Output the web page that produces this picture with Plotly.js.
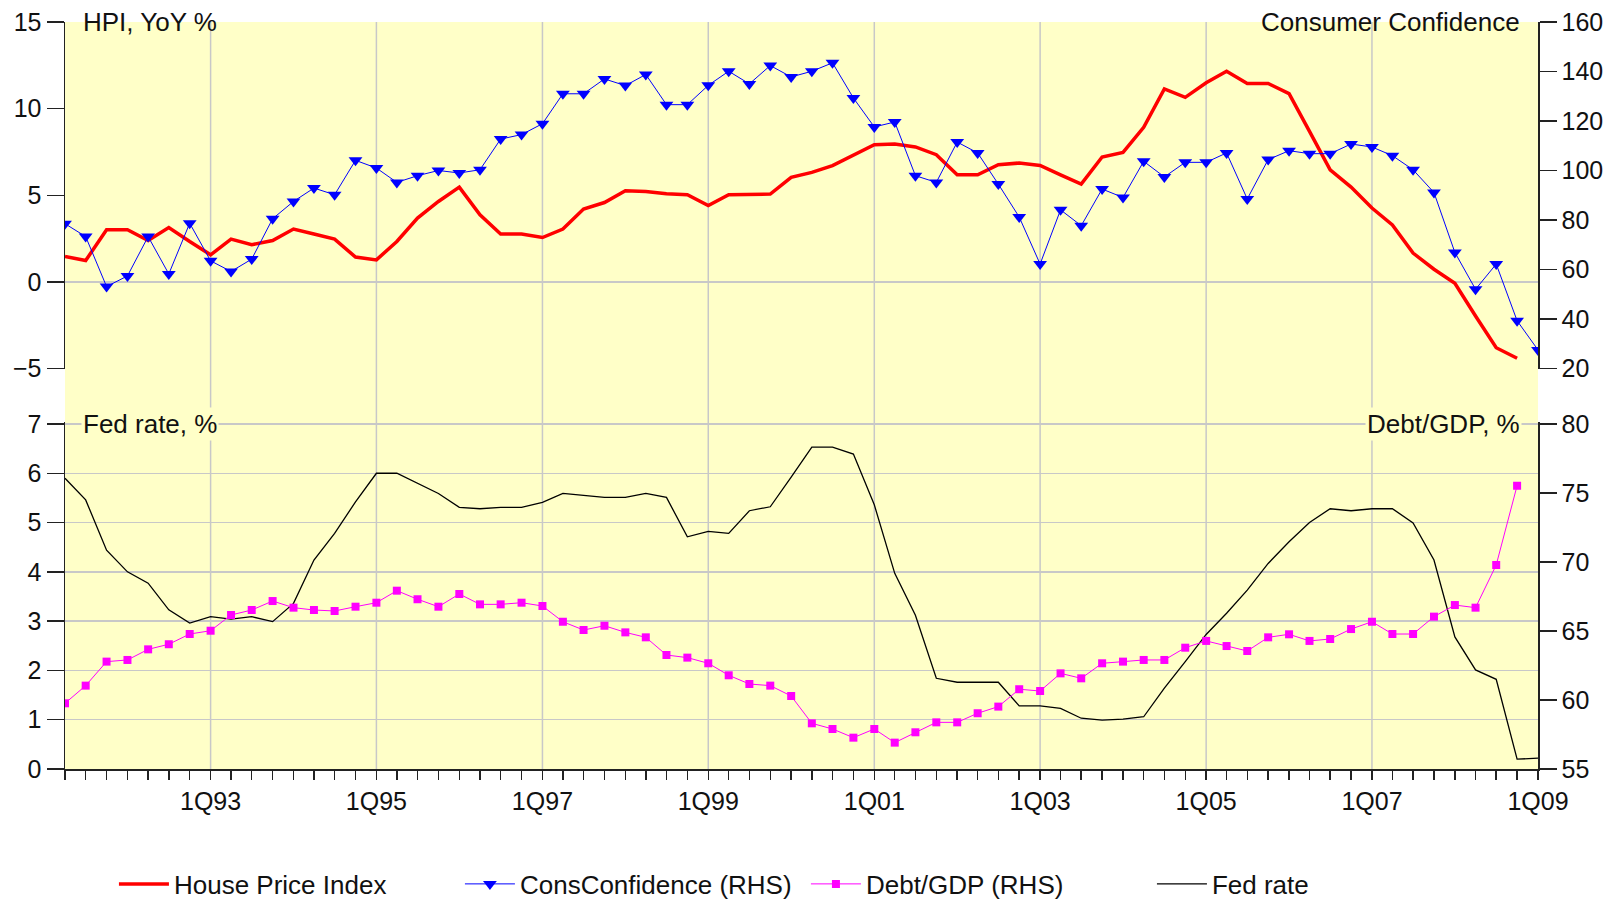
<!DOCTYPE html>
<html><head><meta charset="utf-8">
<script src="https://cdn.plot.ly/plotly-3.0.1.min.js"></script>
<style>html,body{margin:0;padding:0;background:#fff}#chart{width:1623px;height:900px}</style>
</head><body><div id="chart"></div>
<script>
// First quarter of the series: 2Q91
const startYear = 1991, startQuarter = 2;

// House Price Index, YoY % (2Q91 .. 4Q08)
const hpi = [1.46,1.23,3.01,3.01,2.39,3.14,2.33,1.56,2.47,2.14,2.39,3.05,2.76,2.47,1.43,1.27,2.33,3.68,4.64,5.47,3.87,2.76,2.76,2.56,
  3.05,4.20,4.58,5.26,5.22,5.09,5.03,4.41,5.03,5.07,5.07,6.03,6.32,6.71,7.30,7.92,7.96,7.79,7.34,6.18,6.18,6.76,6.86,6.72,6.18,5.64,
  7.21,7.47,8.92,11.14,10.65,11.49,12.16,11.45,11.45,10.87,8.69,6.47,5.47,4.26,3.29,1.66,0.73,-0.08,-1.97,-3.80,-4.41];
// Consumer Confidence (RHS) (2Q91 .. 1Q09)
const consConf = [78.5,73.3,53.1,57.4,73.3,58.2,78.7,63.5,59.2,64.2,80.5,87.5,92.9,90.2,104.1,101.0,95.2,97.9,100.0,99.0,100.3,112.7,114.5,118.9,
  131.0,131.0,137.0,134.3,138.8,126.6,126.6,134.4,140.1,135.0,142.4,137.8,140.1,143.5,129.3,117.6,119.6,97.9,95.2,111.5,107.1,94.5,81.2,62.2,84.1,77.7,
  92.5,89.1,103.7,97.4,103.3,103.3,107.1,88.5,104.4,108.0,106.8,106.8,110.7,109.5,106.0,100.3,91.1,66.9,52.0,62.2,39.3,27.5];
// Debt/GDP, % (RHS) (2Q91 .. 4Q08)
const debtGdp = [59.76,61.04,62.78,62.90,63.67,64.04,64.78,65.02,66.16,66.52,67.17,66.69,66.52,66.45,66.76,67.05,67.92,67.30,66.76,67.68,66.93,66.93,67.05,66.81,
  65.67,65.07,65.38,64.90,64.54,63.26,63.07,62.66,61.79,61.16,61.04,60.29,58.31,57.90,57.27,57.90,56.91,57.66,58.38,58.38,59.04,59.52,60.78,60.65,61.93,61.57,
  62.66,62.78,62.90,62.90,63.79,64.28,63.91,63.55,64.54,64.76,64.28,64.42,65.14,65.67,64.78,64.78,66.04,66.88,66.69,69.78,75.53];
// Fed rate, % (2Q91 .. 1Q09)
const fedRate = [5.90,5.46,4.44,4.00,3.77,3.23,2.96,3.09,3.04,3.09,2.99,3.36,4.24,4.78,5.42,6.00,6.00,5.80,5.59,5.31,5.28,5.31,5.31,5.41,
  5.59,5.55,5.51,5.51,5.59,5.51,4.71,4.82,4.78,5.24,5.32,5.92,6.53,6.53,6.39,5.36,3.97,3.12,1.84,1.76,1.76,1.76,1.28,1.28,1.23,1.03,
  0.99,1.01,1.06,1.64,2.18,2.73,3.16,3.63,4.17,4.61,5.00,5.28,5.24,5.28,5.28,4.99,4.24,2.68,2.01,1.82,0.20,0.22];

const tickDates = ['1993-01-01','1995-01-01','1997-01-01','1999-01-01','2001-01-01','2003-01-01','2005-01-01','2007-01-01','2009-01-01'];
const tickLabels = ['1Q93','1Q95','1Q97','1Q99','1Q01','1Q03','1Q05','1Q07','1Q09'];

const nQ = Math.max(hpi.length, consConf.length, debtGdp.length, fedRate.length);
const quarters = [];
for (let i = 0; i < nQ; i++) {
  const q0 = startQuarter - 1 + i;
  const y = startYear + Math.floor(q0 / 4);
  const m = (q0 % 4) * 3 + 1;
  quarters.push(y + '-' + String(m).padStart(2, '0') + '-01');
}

const FONT = 'Liberation Sans, Arial, sans-serif';
const TXT = '#111111';
const YELLOW = '#ffffc8';
const GRID = '#c8c8c8';
const AX = '#222222';

const traces = [
  {x: quarters.slice(0, hpi.length), y: hpi, name: 'House Price Index', type: 'scatter', mode: 'lines',
   line: {color: '#ff0000', width: 3.5}, xaxis: 'x', yaxis: 'y'},
  {x: quarters.slice(0, consConf.length), y: consConf, name: 'ConsConfidence (RHS)', type: 'scatter', mode: 'lines+markers',
   line: {color: '#0000ff', width: 1}, marker: {symbol: 'triangle-down', size: 12, color: '#0000ff'}, xaxis: 'x', yaxis: 'y3'},
  {x: quarters.slice(0, debtGdp.length), y: debtGdp, name: 'Debt/GDP (RHS)', type: 'scatter', mode: 'lines+markers',
   line: {color: '#ff00ff', width: 1}, marker: {symbol: 'square', size: 8, color: '#ff00ff'}, xaxis: 'x', yaxis: 'y4'},
  {x: quarters.slice(0, fedRate.length), y: fedRate, name: 'Fed rate', type: 'scatter', mode: 'lines',
   line: {color: '#000000', width: 1.3}, xaxis: 'x', yaxis: 'y2'}
];

const tickfont = {family: FONT, size: 25, color: TXT};
const yCommon = {showline: true, linecolor: AX, linewidth: 1.5, ticks: 'outside', ticklen: 17, tickwidth: 1.5,
  tickcolor: AX, tickfont: tickfont, anchor: 'x', fixedrange: true};

const shapes = [{type: 'rect', xref: 'paper', yref: 'paper', x0: 0, x1: 1, y0: 0, y1: 1,
  fillcolor: YELLOW, line: {width: 0}, layer: 'below'}].concat(
  tickDates.slice(0, -1).map(d => ({type: 'line', xref: 'x', yref: 'paper', x0: d, x1: d, y0: 0, y1: 1,
    line: {color: GRID, width: 1.5}, layer: 'below'})));

const annFont = {family: FONT, size: 26, color: TXT};
const layout = {
  width: 1623, height: 900,
  margin: {l: 65, r: 85, t: 22, b: 131, autoexpand: false},
  paper_bgcolor: '#ffffff', plot_bgcolor: 'rgba(0,0,0,0)',
  font: {family: FONT, size: 26, color: TXT},
  showlegend: true,
  legend: {orientation: 'h', xref: 'container', yref: 'container', x: 0.0702, y: 0.0178,
    xanchor: 'left', yanchor: 'middle', font: {family: FONT, size: 26, color: TXT},
    itemwidth: 50, entrywidth: 281, bgcolor: 'rgba(0,0,0,0)'},
  xaxis: {type: 'date', anchor: 'y2', range: [quarters[0], tickDates[tickDates.length - 1]],
    tickmode: 'array', tickvals: tickDates, ticktext: tickLabels, ticks: 'outside', ticklen: 9, tickwidth: 1.5,
    tickcolor: AX, showline: true, linecolor: AX, linewidth: 1.5, showgrid: false, zeroline: false,
    tickfont: tickfont, fixedrange: true,
    minor: {tickmode: 'linear', tick0: quarters[0], dtick: 'M3', ticks: 'outside', ticklen: 9, tickwidth: 1.5,
      tickcolor: AX, showgrid: false}},
  yaxis: Object.assign({}, yCommon, {domain: [0.53614, 1], range: [-5, 15], tickmode: 'array',
    tickvals: [-5, 0, 5, 10, 15], showgrid: false, zeroline: true, zerolinecolor: GRID, zerolinewidth: 1.5}),
  yaxis3: Object.assign({}, yCommon, {overlaying: 'y', side: 'right', range: [20, 160], tickmode: 'linear',
    tick0: 20, dtick: 20, showgrid: false, zeroline: false}),
  yaxis2: Object.assign({}, yCommon, {domain: [0, 0.46386], range: [0, 7.03], tickmode: 'linear', tick0: 0, dtick: 1,
    showgrid: true, gridcolor: GRID, gridwidth: 1.5, zeroline: false}),
  yaxis4: Object.assign({}, yCommon, {overlaying: 'y2', side: 'right', range: [55, 80.107], tickmode: 'linear',
    tick0: 55, dtick: 5, showgrid: false, zeroline: false}),
  shapes: shapes,
  annotations: [
    {text: 'HPI, YoY %', xref: 'paper', yref: 'paper', x: 0, y: 1, xanchor: 'left', yanchor: 'middle',
     xshift: 16, showarrow: false, font: annFont},
    {text: 'Consumer Confidence', xref: 'paper', yref: 'paper', x: 1, y: 1, xanchor: 'right', yanchor: 'middle',
     xshift: -16, showarrow: false, font: annFont},
    {text: 'Fed rate, %', xref: 'paper', yref: 'y2', x: 0, y: 7, xanchor: 'left', yanchor: 'middle',
     xshift: 16, showarrow: false, font: annFont, bgcolor: YELLOW},
    {text: 'Debt/GDP, %', xref: 'paper', yref: 'y2', x: 1, y: 7, xanchor: 'right', yanchor: 'middle',
     xshift: -16, showarrow: false, font: annFont, bgcolor: YELLOW}
  ]
};

Plotly.newPlot('chart', traces, layout, {displayModeBar: false, staticPlot: true});
</script>
</body></html>
